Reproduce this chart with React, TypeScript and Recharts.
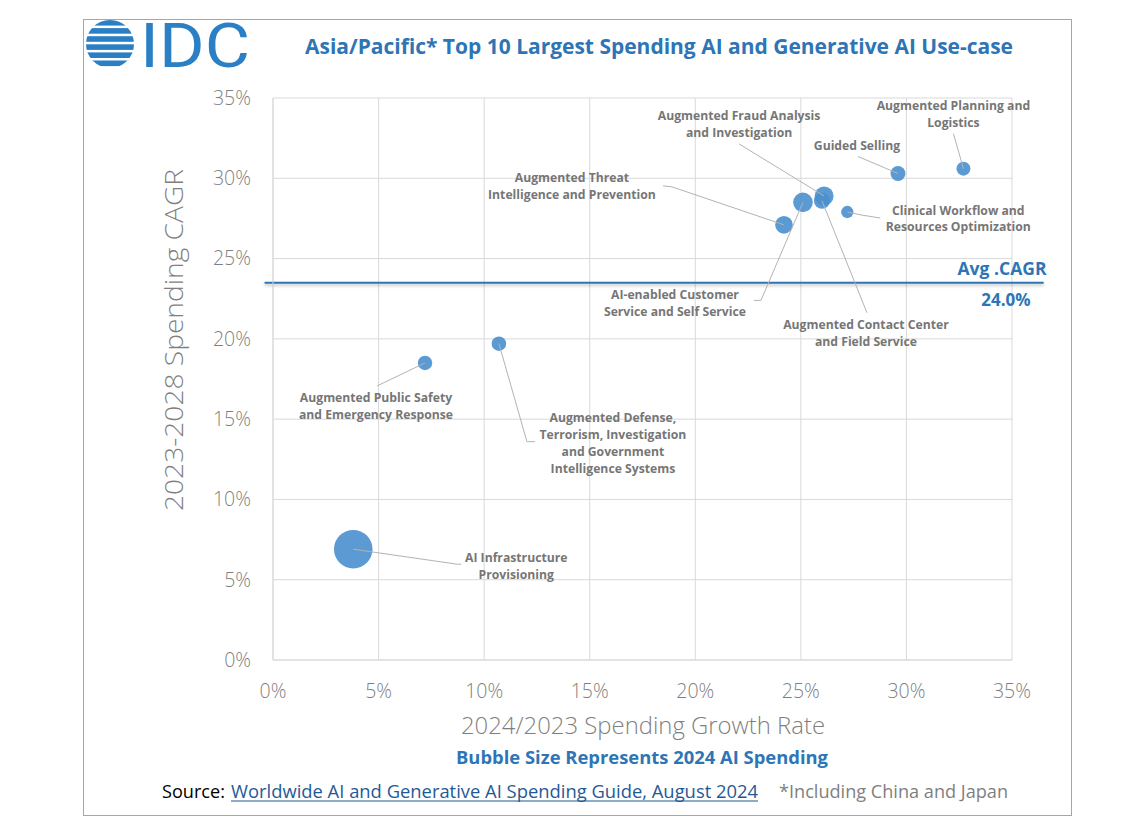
import { CartesianGrid, ReferenceLine, Scatter, ScatterChart, XAxis, YAxis, ZAxis } from "recharts"

const useCases = [
  "AI Infrastructure Provisioning",
  "Augmented Public Safety and Emergency Response",
  "Augmented Defense, Terrorism, Investigation and Government Intelligence Systems",
  "Augmented Threat Intelligence and Prevention",
  "AI-enabled Customer Service and Self Service",
  "Augmented Contact Center and Field Service",
  "Augmented Fraud Analysis and Investigation",
  "Clinical Workflow and Resources Optimization",
  "Guided Selling",
  "Augmented Planning and Logistics",
]
// 2024/2023 spending growth, %
const growth2024 = [3.8, 7.2, 10.7, 24.2, 25.1, 26.0, 26.1, 27.2, 29.6, 32.7]
// 2023-2028 spending CAGR, %
const cagr = [6.9, 18.5, 19.7, 27.1, 28.5, 28.6, 28.9, 27.9, 30.3, 30.6]
// 2024 AI spending (relative)
const spend2024 = [3.72, 0.52, 0.53, 0.78, 0.96, 0.64, 0.9, 0.38, 0.56, 0.49]

const xTicks = [0, 5, 10, 15, 20, 25, 30, 35]
const yTicks = [0, 5, 10, 15, 20, 25, 30, 35]
const avgCagr = 23.5
const avgCagrText = "24.0%"

const points = useCases.map((name, i) => ({ name, x: growth2024[i], y: cagr[i], z: spend2024[i] }))

// callout layout: text offset from bubble centre and leader-line bends (px)
const callouts: Record<string, { lines: string[]; tx: number; ty: number; leader: number[][] }> = {
  "AI Infrastructure Provisioning": { lines: ["AI Infrastructure", "Provisioning"], tx: 163, ty: 8, leader: [[104, 15], [108, 15]] },
  "Augmented Public Safety and Emergency Response": { lines: ["Augmented Public Safety", "and Emergency Response"], tx: -49, ty: 35, leader: [[-48, 23]] },
  "Augmented Defense, Terrorism, Investigation and Government Intelligence Systems": {
    lines: ["Augmented Defense,", "Terrorism, Investigation", "and Government", "Intelligence Systems"],
    tx: 114, ty: 74, leader: [[28, 98], [36, 98]],
  },
  "Augmented Threat Intelligence and Prevention": { lines: ["Augmented Threat", "Intelligence and Prevention"], tx: -212, ty: -47, leader: [[-112, -38], [-121, -39]] },
  "AI-enabled Customer Service and Self Service": { lines: ["AI-enabled Customer", "Service and Self Service"], tx: -128, ty: 92, leader: [[-42, 98], [-49, 98]] },
  "Augmented Contact Center and Field Service": { lines: ["Augmented Contact Center", "and Field Service"], tx: 44, ty: 124, leader: [[45, 112]] },
  "Augmented Fraud Analysis and Investigation": { lines: ["Augmented Fraud Analysis", "and Investigation"], tx: -85, ty: -80, leader: [[-85, -52]] },
  "Clinical Workflow and Resources Optimization": { lines: ["Clinical Workflow and", "Resources Optimization"], tx: 111, ty: -2, leader: [[14, 3], [33, 6]] },
  "Guided Selling": { lines: ["Guided Selling"], tx: -41, ty: -28, leader: [[-40, -17]] },
  "Augmented Planning and Logistics": { lines: ["Augmented Planning and", "Logistics"], tx: -10, ty: -63, leader: [[-10, -35]] },
}

const FONT = "'Open Sans', 'Noto Sans', sans-serif"
const BLUE = "#2e75b6"
const GREY = "#7f7f7f"

const Bubble = (props: any) => {
  const { cx, cy, width } = props
  if (cx == null || cy == null) return <g />
  return <circle cx={cx} cy={cy} r={width / 2} fill="#4a8fcf" fillOpacity={0.9} />
}

const Callout = (props: any) => {
  const { cx, cy, payload } = props
  const c = callouts[payload?.name]
  if (!c || cx == null || cy == null) return <g />
  const pts = [[0, 0], ...c.leader].map(([dx, dy]) => `${cx + dx},${cy + dy}`).join(" ")
  return (
    <g>
      <polyline points={pts} fill="none" stroke="#b3b3b3" strokeWidth={1} />
      {c.lines.map((line, i) => (
        <text
          key={i}
          x={cx + c.tx}
          y={cy + c.ty + i * 16.8}
          textAnchor="middle"
          dominantBaseline="central"
          fontFamily={FONT}
          fontWeight={700}
          fontSize={12.2}
          fill="#767676"
        >
          {line}
        </text>
      ))}
    </g>
  )
}

const AvgLabel = (props: any) => {
  const vb = props.viewBox
  if (!vb) return null
  const right = vb.x + vb.width
  return (
    <g fontFamily={FONT} fontWeight={700} fill={BLUE} textAnchor="middle">
      <text x={right - 10} y={vb.y - 15} dominantBaseline="central" fontSize={17.5}>
        Avg .CAGR
      </text>
      <text x={right - 6} y={vb.y + 17} dominantBaseline="central" fontSize={17}>
        {avgCagrText}
      </text>
    </g>
  )
}

const Logo = () => {
  const bars = [0, 1, 2, 3, 4, 5]
  return (
    <g>
      <defs>
        <clipPath id="idc-globe">
          <circle cx={110} cy={44} r={24} />
        </clipPath>
      </defs>
      <g clipPath="url(#idc-globe)">
        {bars.map((b) => (
          <rect key={b} x={84} y={20 + b * 8.1} width={54} height={5.6} fill="#2b80c5" />
        ))}
      </g>
      <text x={140} y={67} fontFamily="Roboto, sans-serif" fontSize={62} fill="#2b80c5" textLength={110} lengthAdjust="spacingAndGlyphs">
        IDC
      </text>
    </g>
  )
}

export default function App() {
  return (
    <div style={{ position: "absolute", left: 0, top: 0, width: 1122, height: 831, background: "#fff" }}>
      <ScatterChart width={1122} height={831} margin={{ top: 98, right: 110, bottom: 131, left: 193 }}>
        <defs>
          <filter id="avg-shadow" filterUnits="userSpaceOnUse" x={0} y={0} width={1122} height={831}>
            <feDropShadow dx={0} dy={2} stdDeviation={1.5} floodColor="#000" floodOpacity={0.25} />
          </filter>
        </defs>
        <CartesianGrid stroke="#d9d9d9" />
        <XAxis
          type="number"
          dataKey="x"
          domain={[0, 35]}
          ticks={xTicks}
          tickFormatter={(v) => `${v}%`}
          axisLine={{ stroke: "#d9d9d9" }}
          tickLine={false}
          tickSize={0}
          tickMargin={24}
          height={40}
          tick={{ fill: GREY, fontSize: 19.5, fontFamily: FONT, fontWeight: 300 }}
        />
        <YAxis
          type="number"
          dataKey="y"
          domain={[0, 35]}
          ticks={yTicks}
          tickFormatter={(v) => `${v}%`}
          axisLine={{ stroke: "#d9d9d9" }}
          tickLine={false}
          tickSize={0}
          tickMargin={22}
          width={80}
          tick={{ fill: GREY, fontSize: 19.5, fontFamily: FONT, fontWeight: 300 }}
        />
        <ZAxis type="number" dataKey="z" domain={[0, 4]} range={[0, 400 * Math.PI]} />
        <ReferenceLine
          segment={[
            { x: -0.4, y: avgCagr },
            { x: 36.5, y: avgCagr },
          ]}
          ifOverflow="visible"
          stroke={BLUE}
          strokeWidth={2}
          filter="url(#avg-shadow)"
        />
        <ReferenceLine y={avgCagr} stroke="none" label={<AvgLabel />} />
        <Scatter data={points} shape={<Bubble />} isAnimationActive={false} />
        <Scatter data={points} shape={<Callout />} isAnimationActive={false} legendType="none" />
      </ScatterChart>

      <svg width={1122} height={831} style={{ position: "absolute", left: 0, top: 0, pointerEvents: "none" }}>
        <rect x={83.5} y={19.5} width={988} height={796} fill="none" stroke="#a6a6a6" />
        <Logo />
        <text
          x={659}
          y={54}
          textAnchor="middle"
          fontFamily={FONT}
          fontWeight={700}
          fontSize={20.5}
          fill={BLUE}
          textLength={708}
          lengthAdjust="spacingAndGlyphs"
        >
          Asia/Pacific* Top 10 Largest Spending AI and Generative AI Use-case
        </text>
        <text
          x={173}
          y={340}
          transform="rotate(-90, 173, 340)"
          textAnchor="middle"
          dominantBaseline="central"
          fontFamily={FONT}
          fontWeight={300}
          fontSize={25}
          fill={GREY}
          textLength={342}
          lengthAdjust="spacingAndGlyphs"
        >
          2023-2028 Spending CAGR
        </text>
        <text
          x={643}
          y={724}
          textAnchor="middle"
          dominantBaseline="central"
          fontFamily={FONT}
          fontWeight={300}
          fontSize={24}
          fill={GREY}
          textLength={364}
          lengthAdjust="spacingAndGlyphs"
        >
          2024/2023 Spending Growth Rate
        </text>
        <text
          x={642}
          y={757}
          textAnchor="middle"
          dominantBaseline="central"
          fontFamily={FONT}
          fontWeight={700}
          fontSize={18.2}
          fill={BLUE}
          textLength={372}
          lengthAdjust="spacingAndGlyphs"
        >
          Bubble Size Represents 2024 AI Spending
        </text>
        <g fontFamily={FONT} fontSize={18.3} dominantBaseline="central">
          <text x={162} y={790} fill="#000" textLength={63} lengthAdjust="spacingAndGlyphs">
            Source:
          </text>
          <text x={231} y={790} fill="#1f5a96" textLength={527} lengthAdjust="spacingAndGlyphs">
            Worldwide AI and Generative AI Spending Guide, August 2024
          </text>
          <line x1={231} x2={758} y1={801} y2={801} stroke="#1f5a96" strokeWidth={1.2} />
          <text x={779} y={790} fill={GREY} textLength={229} lengthAdjust="spacingAndGlyphs">
            *Including China and Japan
          </text>
        </g>
      </svg>
    </div>
  )
}
